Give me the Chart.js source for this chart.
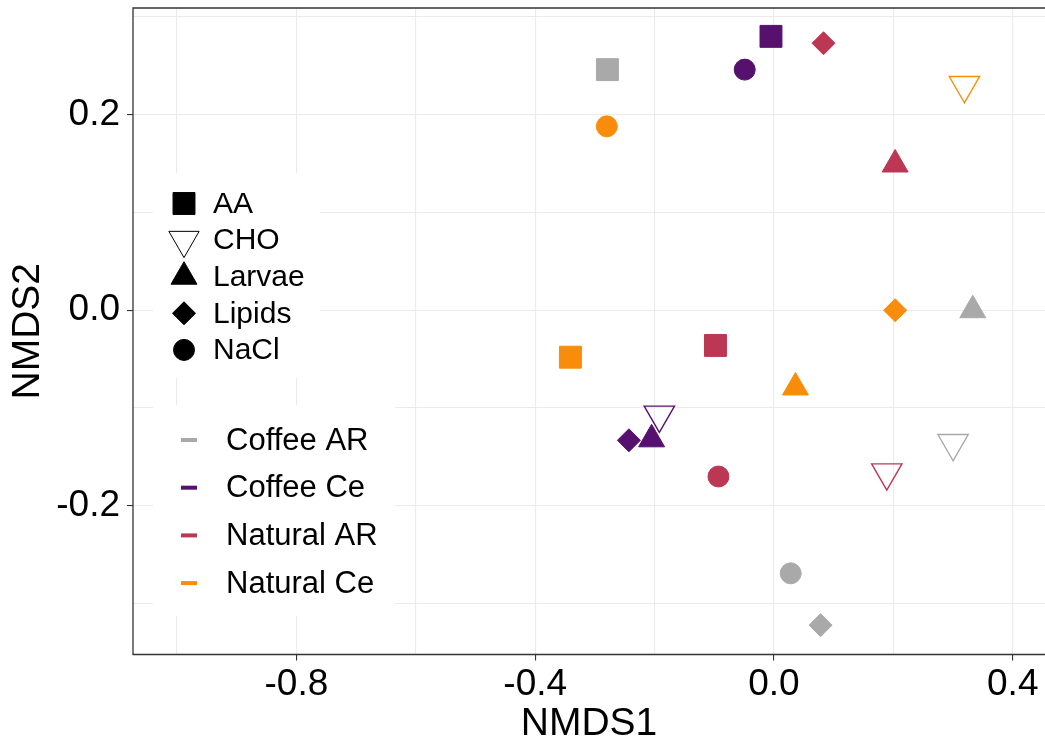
<!DOCTYPE html>
<html>
<head>
<meta charset="utf-8">
<script src="https://cdn.jsdelivr.net/npm/chart.js@4.4.0/dist/chart.umd.min.js"></script>
<style>
  html, body { margin: 0; padding: 0; background: #fff; }
  #wrap { width: 1045px; height: 744px; position: relative; }
</style>
</head>
<body>
<div id="wrap"><canvas id="nmds-chart"></canvas></div>
<script>
// groups (colour) and treatments (shape)
const groups = ["Coffee AR", "Coffee Ce", "Natural AR", "Natural Ce"];
const treatments = ["AA", "CHO", "Larvae", "Lipids", "NaCl"];

// NMDS scores, in treatment order
const coffeeArX = [-0.279, 0.300, 0.333, 0.078, 0.028];
const coffeeArY = [0.246, -0.136, 0.000, -0.322, -0.269];
const coffeeCeX = [-0.005, -0.192, -0.205, -0.243, -0.049];
const coffeeCeY = [0.280, -0.107, -0.132, -0.133, 0.246];
const naturalArX = [-0.098, 0.189, 0.203, 0.083, -0.093];
const naturalArY = [-0.036, -0.166, 0.149, 0.273, -0.170];
const naturalCeX = [-0.341, 0.319, 0.036, 0.203, -0.280];
const naturalCeY = [-0.048, 0.230, -0.079, 0.000, 0.188];

const xTicks = [-0.8, -0.4, 0.0, 0.4];
const yTicks = [-0.2, 0.0, 0.2];

const groupColors = ["#A9A9A9", "#56106E", "#BB3754", "#F98C0A"];
const FONT = "'Liberation Sans', Arial, sans-serif";

const shapeStyle = {
  AA: { pointStyle: "rect", radius: 15.5, rotation: 0, filled: true },
  CHO: { pointStyle: "triangle", radius: 17.5, rotation: 180, filled: false },
  Larvae: { pointStyle: "triangle", radius: 15, rotation: 0, filled: true },
  Lipids: { pointStyle: "rectRot", radius: 11.5, rotation: 0, filled: true },
  NaCl: { pointStyle: "circle", radius: 10.5, rotation: 0, filled: true },
};

const series = [
  { xs: coffeeArX, ys: coffeeArY },
  { xs: coffeeCeX, ys: coffeeCeY },
  { xs: naturalArX, ys: naturalArY },
  { xs: naturalCeX, ys: naturalCeY },
];

const styleOf = (ctx) => shapeStyle[treatments[ctx.dataIndex]];

const datasets = series.map((s, i) => ({
  label: groups[i],
  data: s.xs.map((x, j) => ({ x: x, y: s.ys[j] })),
  pointStyle: (ctx) => styleOf(ctx).pointStyle,
  pointRadius: (ctx) => styleOf(ctx).radius,
  pointHoverRadius: (ctx) => styleOf(ctx).radius,
  pointRotation: (ctx) => styleOf(ctx).rotation,
  pointBackgroundColor: (ctx) => styleOf(ctx).filled ? groupColors[i] : "rgba(0,0,0,0)",
  pointBorderColor: groupColors[i],
  pointBorderWidth: (ctx) => styleOf(ctx).filled ? 1 : 1.4,
}));

const isMajor = (v, list) => list.some((t) => Math.abs(t - v) < 1e-6);
const fmt = (v) => (Math.abs(v) < 1e-9 ? "0.0" : v.toFixed(1));

// two legends drawn inside the panel, over the grid
const insideLegends = {
  id: "insideLegends",
  beforeDatasetsDraw(chart) {
    const ctx = chart.ctx;
    const drawPoint = Chart.helpers.drawPoint;
    ctx.save();
    ctx.fillStyle = "#fff";
    ctx.fillRect(153, 173, 167, 205);
    ctx.fillRect(153, 405, 242, 211);

    ctx.textAlign = "left";
    ctx.textBaseline = "middle";
    ctx.font = "30px " + FONT;
    treatments.forEach((t, i) => {
      const y = 203.5 + i * 36.6;
      const st = shapeStyle[t];
      ctx.fillStyle = st.filled ? "#000" : "rgba(0,0,0,0)";
      ctx.strokeStyle = "#000";
      drawPoint(ctx, { pointStyle: st.pointStyle, radius: st.radius, rotation: st.rotation, borderWidth: st.filled ? 1 : 1.4 }, 184, y);
      ctx.fillStyle = "#000";
      ctx.fillText(t, 213, y + 1);
    });

    ctx.font = "31px " + FONT;
    groups.forEach((g, i) => {
      const y = 440 + i * 47.7;
      ctx.fillStyle = groupColors[i];
      ctx.fillRect(181, y - 2, 16, 4);
      ctx.fillStyle = "#000";
      ctx.fillText(g, 226, y + 1);
    });
    ctx.restore();
  },
  afterDatasetsDraw(chart) {
    const { ctx, chartArea: a } = chart;
    ctx.save();
    ctx.strokeStyle = "#333";
    ctx.lineWidth = 1.3;
    ctx.beginPath();
    ctx.moveTo(a.right + 2, a.top);
    ctx.lineTo(a.left, a.top);
    ctx.lineTo(a.left, a.bottom);
    ctx.lineTo(a.right + 2, a.bottom);
    ctx.stroke();
    ctx.restore();
  },
};

new Chart(document.getElementById("nmds-chart"), {
  type: "scatter",
  data: { datasets: datasets },
  plugins: [insideLegends],
  options: {
    responsive: true,
    maintainAspectRatio: false,
    animation: false,
    layout: { autoPadding: false, padding: { top: 8, right: 0, bottom: 0, left: 0 } },
    plugins: { legend: { display: false }, tooltip: { enabled: false } },
    scales: {
      x: {
        type: "linear",
        min: -1.0737,
        max: 0.454,
        ticks: {
          stepSize: 0.2,
          includeBounds: false,
          autoSkip: false,
          maxRotation: 0,
          padding: 2,
          color: "#000",
          font: { family: FONT, size: 37 },
          callback: (v) => (isMajor(v, xTicks) ? fmt(v) : ""),
        },
        grid: {
          color: "#EBEBEB",
          lineWidth: 1.1,
          tickLength: 6,
          tickColor: (ctx) => (ctx.tick && isMajor(ctx.tick.value, xTicks) ? "#333" : "rgba(0,0,0,0)"),
        },
        border: { display: false },
        title: { display: true, text: "NMDS1", color: "#000", font: { family: FONT, size: 39 }, padding: { top: 0, bottom: -4 } },
        afterFit: (s) => { s.height = 89.5; s.paddingLeft = 0; s.paddingRight = 0; },
      },
      y: {
        type: "linear",
        min: -0.352,
        max: 0.309,
        ticks: {
          stepSize: 0.1,
          includeBounds: false,
          autoSkip: false,
          padding: 7,
          color: "#000",
          font: { family: FONT, size: 37 },
          callback: (v) => (isMajor(v, yTicks) ? fmt(v) : ""),
        },
        grid: {
          color: "#EBEBEB",
          lineWidth: 1.1,
          tickLength: 6,
          tickColor: (ctx) => (ctx.tick && isMajor(ctx.tick.value, yTicks) ? "#333" : "rgba(0,0,0,0)"),
        },
        border: { display: false },
        title: { display: true, text: "NMDS2", color: "#000", font: { family: FONT, size: 39 }, padding: { top: 5, bottom: 0 } },
        afterFit: (s) => { s.width = 133; s.paddingTop = 0; s.paddingBottom = 0; },
      },
    },
  },
});
</script>
</body>
</html>
